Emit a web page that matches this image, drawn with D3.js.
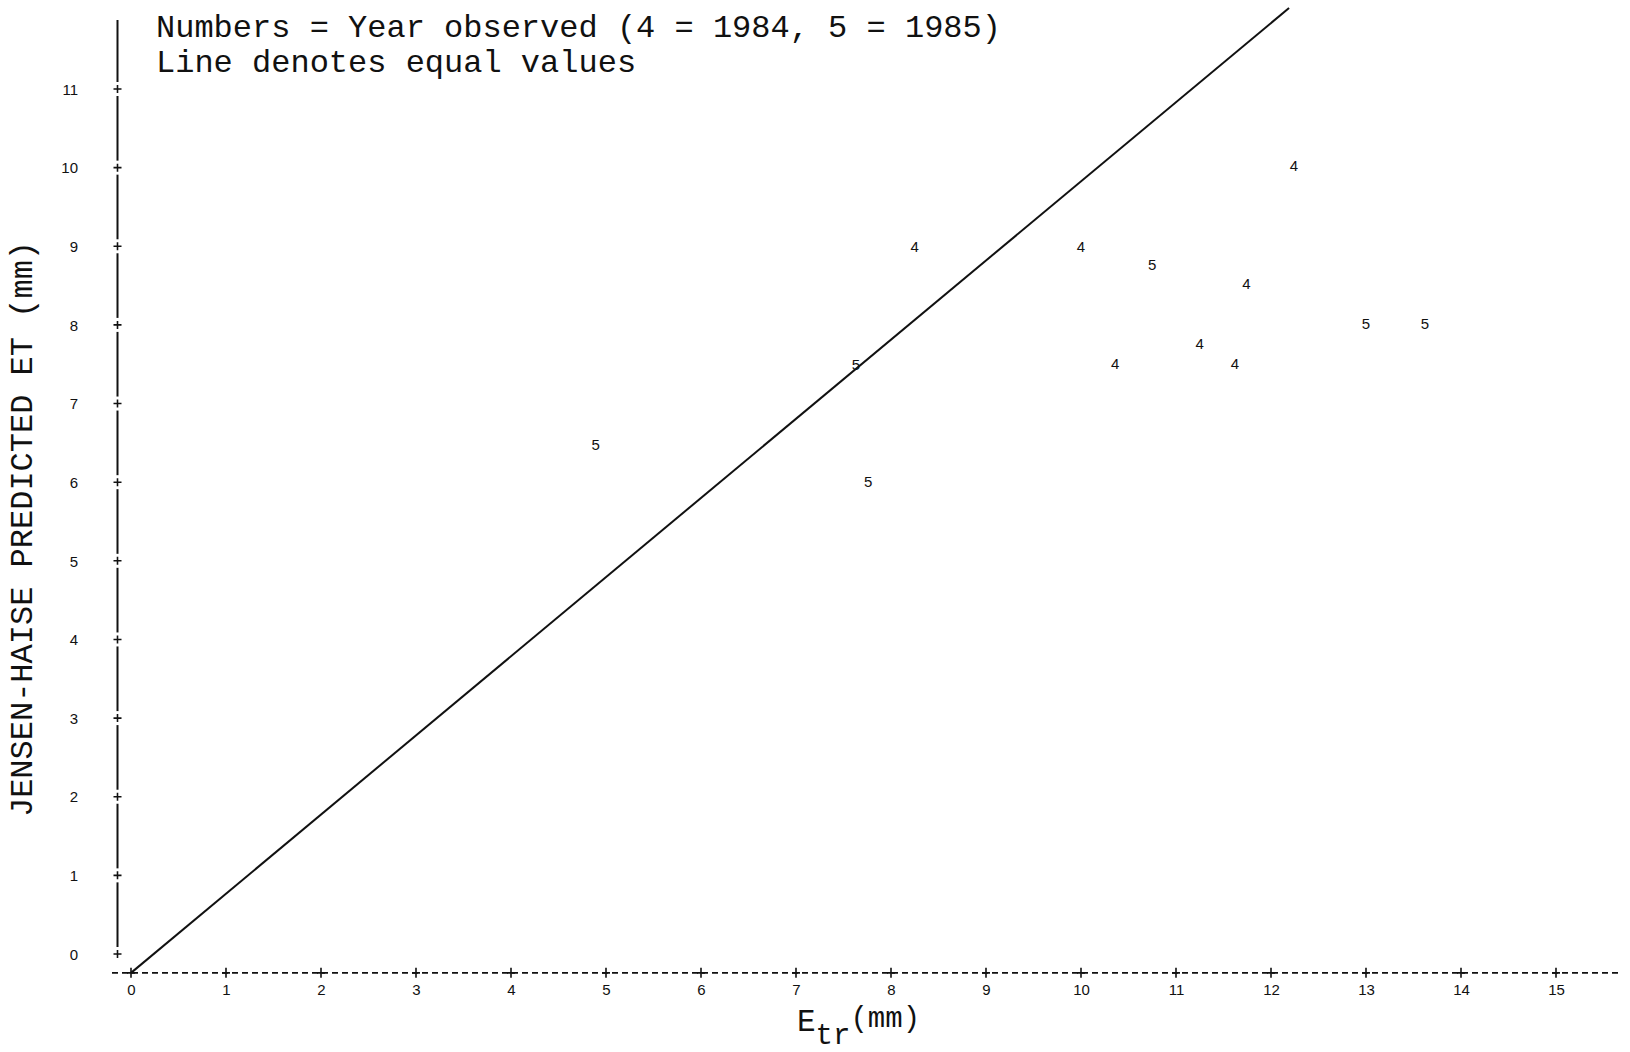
<!DOCTYPE html>
<html>
<head>
<meta charset="utf-8">
<script src="https://cdn.jsdelivr.net/npm/d3@7"></script>
<style>
  html, body { margin: 0; padding: 0; background: #fff; }
  svg { display: block; }
  .tick-label { font-family: "Liberation Sans", Arial, sans-serif; font-size: 15px; fill: #111; }
  .mono { font-family: "Liberation Mono", "Courier New", monospace; fill: #111; }
</style>
</head>
<body>
<svg id="chart" width="1630" height="1052"></svg>
<script>
// ---- Data ----
const xTicks = [0,1,2,3,4,5,6,7,8,9,10,11,12,13,14,15];
const yTicks = [0,1,2,3,4,5,6,7,8,9,10,11];
const obsX  = [4.89, 7.63, 7.76, 8.25, 10.0, 10.75, 10.36, 11.25, 11.62, 11.74, 12.24, 13.0, 13.62];
const predY = [6.47, 7.49, 6.00, 8.99, 8.99, 8.76, 7.50, 7.76, 7.50, 8.52, 10.02, 8.02, 8.02];
const yearCode = ["5","5","5","4","4","5","4","4","4","4","4","5","5"];
const equalLineX = [0, 12.19];
const equalLineY = [-0.24, 12.03];
const noteLines = ["Numbers = Year observed (4 = 1984, 5 = 1985)", "Line denotes equal values"];
const yTitle = "JENSEN-HAISE PREDICTED ET (mm)";

// ---- Scales ----
const x = d3.scaleLinear().domain([0, 15]).range([131, 1556]);
const y = d3.scaleLinear().domain([0, 11]).range([954, 89]);
const xAxisVal = -0.24;
const yAxisX = 117.5;

const svg = d3.select("#chart");

// ---- Y axis: solid segments broken at each tick, with "+" marks ----
const yAxisG = svg.append("g");
const segs = [];
segs.push([y(11) - 69, y(11) - 7]);
for (let i = 11; i > 0; i--) segs.push([y(i) + 7, y(i - 1) - 7]);
yAxisG.selectAll("line.seg").data(segs).join("line")
  .attr("x1", yAxisX).attr("x2", yAxisX)
  .attr("y1", d => d[0]).attr("y2", d => d[1])
  .attr("stroke", "#111").attr("stroke-width", 2);
yAxisG.selectAll("path.plus").data(yTicks).join("path")
  .attr("d", d => `M${yAxisX - 4},${y(d)}H${yAxisX + 4}M${yAxisX},${y(d) - 4}V${y(d) + 4}`)
  .attr("stroke", "#111").attr("stroke-width", 1.6);

// y tick labels via d3 axis
const yAx = svg.append("g")
  .attr("transform", `translate(78,0)`)
  .call(d3.axisLeft(y).tickValues(yTicks).tickSize(0).tickPadding(0).tickFormat(d3.format("d")));
yAx.select(".domain").remove();
yAx.selectAll("text").attr("class", "tick-label").attr("dy", "0.35em").attr("font-size", null).attr("font-family", null);

// ---- X axis: dashed line with "+" marks ----
const xAxisY = y(xAxisVal);
svg.append("line")
  .attr("x1", 112).attr("x2", 1622)
  .attr("y1", xAxisY).attr("y2", xAxisY)
  .attr("stroke", "#111").attr("stroke-width", 1.8)
  .attr("stroke-dasharray", "6,4");
svg.append("g").selectAll("path").data(xTicks).join("path")
  .attr("d", d => `M${x(d) - 4},${xAxisY}H${x(d) + 4}M${x(d)},${xAxisY - 5}V${xAxisY + 5}`)
  .attr("stroke", "#111").attr("stroke-width", 1.6);

const xAx = svg.append("g")
  .attr("transform", `translate(0,${xAxisY + 11})`)
  .call(d3.axisBottom(x).tickValues(xTicks).tickSize(0).tickPadding(0).tickFormat(d3.format("d")));
xAx.select(".domain").remove();
xAx.selectAll("text").attr("class", "tick-label").attr("dy", "0.71em").attr("font-size", null).attr("font-family", null);

// ---- Equal-values line ----
const lineData = equalLineX.map((v, i) => [v, equalLineY[i]]);
svg.append("path")
  .datum(lineData)
  .attr("d", d3.line().x(d => x(d[0])).y(d => y(d[1])))
  .attr("fill", "none").attr("stroke", "#111").attr("stroke-width", 2);

// ---- Points (year digits) ----
const pts = obsX.map((v, i) => ({ x: v, y: predY[i], t: yearCode[i] }));
svg.append("g").selectAll("text").data(pts).join("text")
  .attr("class", "tick-label")
  .attr("x", d => x(d.x)).attr("y", d => y(d.y))
  .attr("text-anchor", "middle").attr("dy", "0.35em")
  .text(d => d.t);

// ---- Note text ----
svg.append("g").selectAll("text").data(noteLines).join("text")
  .attr("class", "mono")
  .attr("x", 156).attr("y", (d, i) => 37 + i * 35)
  .attr("font-size", 32)
  .text(d => d);

// ---- Y title ----
svg.append("text")
  .attr("class", "mono")
  .attr("font-size", 32)
  .attr("text-anchor", "middle")
  .attr("transform", "translate(32,529) rotate(-90)")
  .text(yTitle);

// ---- X title: E_tr(mm) ----
const xt = svg.append("text").attr("class", "mono").attr("x", 797).attr("y", 1031);
xt.append("tspan").attr("font-size", 31).text("E");
xt.append("tspan").attr("font-size", 29).attr("dy", 13).text("tr");
xt.append("tspan").attr("font-size", 29).attr("dy", -17).text("(mm)");
</script>
</body>
</html>
